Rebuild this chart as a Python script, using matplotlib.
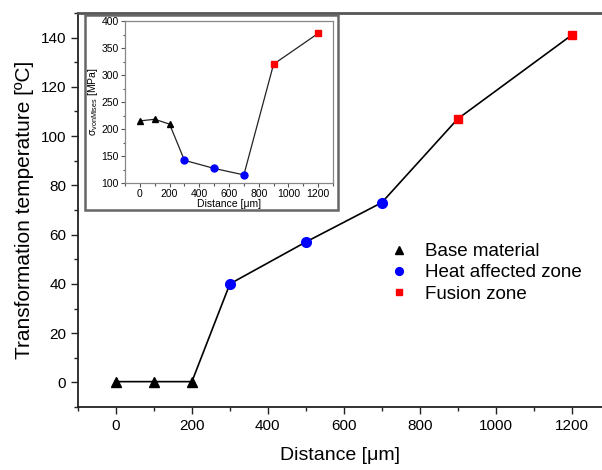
import matplotlib

matplotlib.use("Agg")
import matplotlib.pyplot as plt
from matplotlib.patches import Rectangle
from matplotlib.ticker import MultipleLocator

plt.rcParams["font.family"] = ["Liberation Sans", "DejaVu Sans"]
plt.rcParams["mathtext.fontset"] = "custom"
plt.rcParams["mathtext.rm"] = "Liberation Sans"

# main plot: transformation temperature vs distance
base_x = [0, 100, 200]
base_t = [0.3, 0.3, 0.3]
haz_x = [300, 500, 700]
haz_t = [40, 57, 73]
fusion_x = [900, 1200]
fusion_t = [107, 141]

# inset: von Mises stress vs distance
base_s = [215, 218, 209]
haz_s = [142, 127, 115]
fusion_s = [320, 377]

zones = ["Base material", "Heat affected zone", "Fusion zone"]

fig = plt.figure(figsize=(6.02, 4.70), dpi=100)
ax = fig.add_axes([78 / 602, 1 - 407 / 470, 1 - 78 / 602, (407 - 13) / 470])

all_x = base_x + haz_x + fusion_x
ax.plot(all_x, base_t + haz_t + fusion_t, color="black", linewidth=1.2, zorder=2)
ax.plot(base_x, base_t, "^", color="black", markersize=7, linestyle="none", label=zones[0], zorder=3)
ax.plot(haz_x, haz_t, "o", color="blue", markersize=7, linestyle="none", label=zones[1], zorder=3)
ax.plot(fusion_x, fusion_t, "s", color="red", markersize=6, linestyle="none", label=zones[2], zorder=3)

ax.set_xlim(-100, 1280)
ax.set_ylim(-10, 150)
ax.xaxis.set_major_locator(MultipleLocator(200))
ax.xaxis.set_minor_locator(MultipleLocator(100))
ax.yaxis.set_major_locator(MultipleLocator(20))
ax.yaxis.set_minor_locator(MultipleLocator(10))
ax.tick_params(which="both", direction="out", top=False, right=False, labelsize=11, color="#222222")
ax.tick_params(which="major", length=5, width=1)
ax.tick_params(which="minor", length=3, width=1)
ax.spines["right"].set_visible(False)
for side in ["left", "bottom"]:
    ax.spines[side].set_linewidth(1.3)
    ax.spines[side].set_color("#222222")
ax.spines["top"].set_linewidth(2)
ax.spines["top"].set_color("#555555")
ax.set_xlabel("Distance [\u03bcm]", fontsize=14, labelpad=10)
ax.set_ylabel("Transformation temperature [\u00baC]", fontsize=15, labelpad=5)

ax.legend(loc="upper left", bbox_to_anchor=(0.588, 0.435), frameon=False, fontsize=13.5,
          handlelength=0.6, handletextpad=1.1, labelspacing=0.22, borderaxespad=0,
          markerscale=0.8)

# inset frame box
fig.patches.append(Rectangle((85 / 602, 1 - 210 / 470), (338 - 85) / 602, (210 - 15) / 470,
                             transform=fig.transFigure, facecolor="white", edgecolor="#666666",
                             linewidth=1.8, zorder=5))

ins = fig.add_axes([125 / 602, 1 - 183 / 470, (333 - 125) / 602, (183 - 21) / 470], zorder=6)
ins.plot(all_x, base_s + haz_s + fusion_s, color="#222222", linewidth=0.9, zorder=2)
ins.plot(base_x, base_s, "^", color="black", markersize=5, linestyle="none", zorder=3)
ins.plot(haz_x, haz_s, "o", color="blue", markersize=5, linestyle="none", zorder=3)
ins.plot(fusion_x, fusion_s, "s", color="red", markersize=4.5, linestyle="none", zorder=3)
ins.set_xlim(-100, 1300)
ins.set_ylim(100, 400)
ins.xaxis.set_major_locator(MultipleLocator(200))
ins.xaxis.set_minor_locator(MultipleLocator(100))
ins.yaxis.set_major_locator(MultipleLocator(50))
ins.yaxis.set_minor_locator(MultipleLocator(25))
ins.tick_params(which="both", direction="out", top=False, right=False, labelsize=7.5,
                pad=1.5, color="#555555")
ins.tick_params(which="major", length=3, width=0.8)
ins.tick_params(which="minor", length=1.8, width=0.8)
for sp in ins.spines.values():
    sp.set_color("#888888")
    sp.set_linewidth(0.9)
ins.set_xlabel("Distance [\u03bcm]", fontsize=7.5, labelpad=0)
ins.set_ylabel("$\\mathrm{\u03c3}_{\\mathrm{vonMises}}$ [MPa]", fontsize=7.5, labelpad=1)

fig.savefig("out.png", dpi=100)
